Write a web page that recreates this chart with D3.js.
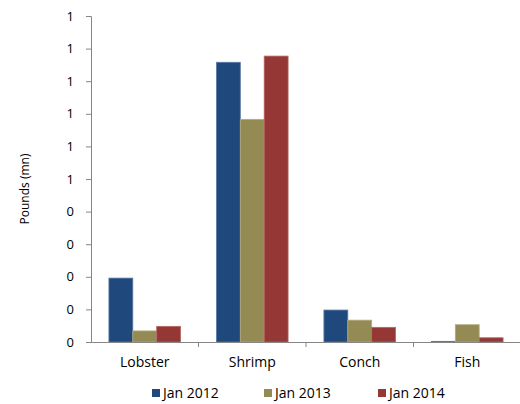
<!DOCTYPE html>
<html>
<head>
<meta charset="utf-8">
<script src="https://cdn.jsdelivr.net/npm/d3@7"></script>
<style>
body { margin: 0; background: #fff; }
text { font-family: "Open Sans", "Liberation Sans", sans-serif; fill: #000; }
</style>
</head>
<body>
<svg width="520" height="404"></svg>
<script>
// data (pounds, millions)
var categories = ["Lobster", "Shrimp", "Conch", "Fish"];
var seriesNames = ["Jan 2012", "Jan 2013", "Jan 2014"];
var jan2012 = [0.196, 0.858, 0.098, 0.002];
var jan2013 = [0.034, 0.683, 0.067, 0.053];
var jan2014 = [0.048, 0.877, 0.045, 0.013];
var yTicks = [0, 0.1, 0.2, 0.3, 0.4, 0.5, 0.6, 0.7, 0.8, 0.9, 1.0];

var colors = ["#1F497D", "#948A54", "#953735"];
var strokes = ["#5a7aa5", "#b3ab80", "#b66765"];
var allSeries = [jan2012, jan2013, jan2014];

var svg = d3.select("svg"),
margin = {top: 16, right: -1, bottom: 62, left: 91},
width = +svg.attr("width") - margin.left - margin.right,
height = +svg.attr("height") - margin.top - margin.bottom;

var x = d3.scaleBand().domain(categories).range([0, width]);
var x1 = d3.scaleBand().domain(seriesNames)
		.range([x.bandwidth() * 0.1667, x.bandwidth() * 0.8333]);
var y = d3.scaleLinear().domain([0, 1]).range([height, 0]);

var g = svg.append("g")
		.attr("transform", "translate(" + margin.left + "," + margin.top + ")");

// bars
var groups = g.selectAll(".cat")
		.data(categories)
		.enter().append("g")
		.attr("class", "cat")
		.attr("transform", function (d) { return "translate(" + x(d) + ",0)"; });

groups.selectAll("rect")
		.data(function (c, i) {
			return seriesNames.map(function (s, j) { return {s: s, j: j, v: allSeries[j][i]}; });
		})
		.enter().append("rect")
		.attr("x", function (d) { return x1(d.s); })
		.attr("width", x1.bandwidth())
		.attr("y", function (d) { return y(d.v); })
		.attr("height", function (d) { return y(0) - y(d.v); })
		.attr("fill", function (d) { return colors[d.j]; })
		.attr("stroke", function (d) { return strokes[d.j]; })
		.attr("stroke-width", 0.8);

// y axis
var yAxis = g.append("g")
		.call(d3.axisLeft(y).tickValues(yTicks).tickSize(5).tickPadding(12).tickFormat(d3.format(".0f")));
yAxis.selectAll("text").style("font-size", "13px");

// x axis
var xAxis = g.append("g")
		.attr("transform", "translate(0," + height + ")")
		.call(d3.axisBottom(x).tickSize(0).tickPadding(15));
xAxis.selectAll("text").style("font-size", "14px");
xAxis.selectAll(".tick line").remove();
xAxis.selectAll(".bound")
		.data(categories.slice(1))
		.enter().append("line")
		.attr("x1", function (d) { return x(d); })
		.attr("x2", function (d) { return x(d); })
		.attr("y1", 0).attr("y2", 5)
		.attr("stroke", "#868686");

svg.selectAll(".domain").attr("stroke", "#868686");
svg.selectAll(".tick line").attr("stroke", "#868686");

// y title
svg.append("text")
		.attr("transform", "translate(29,189) rotate(-90)")
		.attr("text-anchor", "middle")
		.style("font-size", "12px")
		.text("Pounds (mn)");

// legend
var legX = [152, 264, 378];
var legend = svg.selectAll(".leg")
		.data(seriesNames)
		.enter().append("g")
		.attr("class", "leg")
		.attr("transform", function (d, i) { return "translate(" + legX[i] + ",389)"; });
legend.append("rect")
		.attr("width", 8).attr("height", 8)
		.attr("fill", function (d, i) { return colors[i]; });
legend.append("text")
		.attr("x", 11).attr("y", 8.5)
		.style("font-size", "14px")
		.text(function (d) { return d; });
</script>
</body>
</html>
